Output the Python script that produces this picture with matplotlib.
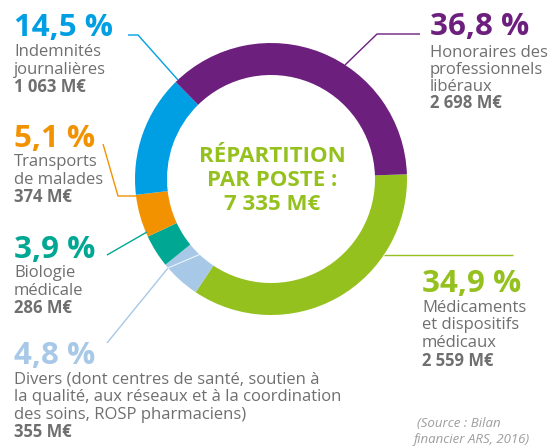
import matplotlib.pyplot as plt

W, H = 550, 446

# clockwise from 3 o'clock
postes = ["Médicaments et dispositifs médicaux", "Divers", "Biologie médicale",
          "Transports de malades", "Indemnités journalières",
          "Honoraires des professionnels libéraux"]
parts = [34.9, 4.8, 3.9, 5.1, 14.5, 36.8]
montants = ["2 559 M€", "355 M€", "286 M€", "374 M€", "1 063 M€", "2 698 M€"]
couleurs = ["#95c11f", "#a7c8e7", "#00a894", "#f39200", "#009fe3", "#6c1f7d"]
total = "7 335 M€"

GRIS = "#706f6f"
FONT = "Open Sans"

fig = plt.figure(figsize=(W / 100, H / 100), dpi=100)
ax = fig.add_axes([0, 0, 1, 1])


def py(y):
    return H - y


cx, cy, R = 271, 179, 136
ax.pie(parts, colors=couleurs, startangle=2, counterclock=False,
       center=(cx, py(cy)), radius=R, frame=True,
       wedgeprops=dict(width=32, linewidth=0))
ax.set_xlim(0, W)
ax.set_ylim(0, H)
ax.set_aspect("equal")
ax.axis("off")

# white split inside "Divers"
ax.plot([168, 203], [py(268), py(253)], color="white", lw=0.8, alpha=0.8)

# leader lines
leaders = [
    ([513, 384], [255, 255], couleurs[0]),
    ([107, 168], [343, 268], couleurs[1]),
    ([107, 147], [255, 232], couleurs[2]),
    ([103, 118, 137], [144, 196, 196], couleurs[3]),
    ([128, 138, 178], [35, 35, 80], couleurs[4]),
    ([345, 377, 420], [65, 34, 34], couleurs[5]),
]
for xs, ys, c in leaders:
    ax.plot(xs, [py(v) for v in ys], color=c, lw=1.0, solid_capstyle="butt")


def bloc(x, y_pct, y_lines, idx, lines):
    pct = f"{parts[idx]:.1f}".replace(".", ",") + " %"
    ax.text(x, py(y_pct), pct, color=couleurs[idx], fontsize=22.5, fontweight="bold",
            family=FONT, va="baseline", ha="left")
    for i, (ln, yy) in enumerate(zip(lines + [montants[idx]], y_lines)):
        bold = i == len(lines)
        ax.text(x, py(yy), ln, color=GRIS, fontsize=12,
                fontweight="bold" if bold else "normal",
                family=FONT, va="baseline", ha="left")


bloc(14, 36, [56, 74, 92], 4, ["Indemnités", "journalières"])
bloc(14, 147, [166, 184, 202], 3, ["Transports", "de malades"])
bloc(14, 258, [277, 295, 313], 2, ["Biologie", "médicale"])
bloc(14, 364, [383, 401, 419, 437], 1,
     ["Divers (dont centres de santé, soutien à",
      "la qualité, aux réseaux et à la coordination",
      "des soins, ROSP pharmaciens)"])
bloc(430, 35, [57, 74, 91, 108], 5, ["Honoraires des", "professionnels", "libéraux"])
bloc(422, 292, [312, 329, 347, 366], 0, ["Médicaments", "et dispositifs", "médicaux"])

for txt, yy in zip(["RÉPARTITION", "PAR POSTE :", total], [162, 186, 210]):
    ax.text(cx + 1, py(yy), txt, color="#95c11f", fontsize=16, fontweight="bold",
            family=FONT, va="baseline", ha="center")

ax.text(417, py(427), "(Source : Bilan", color="#9d9d9c", fontsize=9.5,
        style="italic", family=FONT, va="baseline", ha="left")
ax.text(414, py(443), "financier ARS, 2016)", color="#9d9d9c", fontsize=9.5,
        style="italic", family=FONT, va="baseline", ha="left")

fig.savefig("out.png", dpi=100)
